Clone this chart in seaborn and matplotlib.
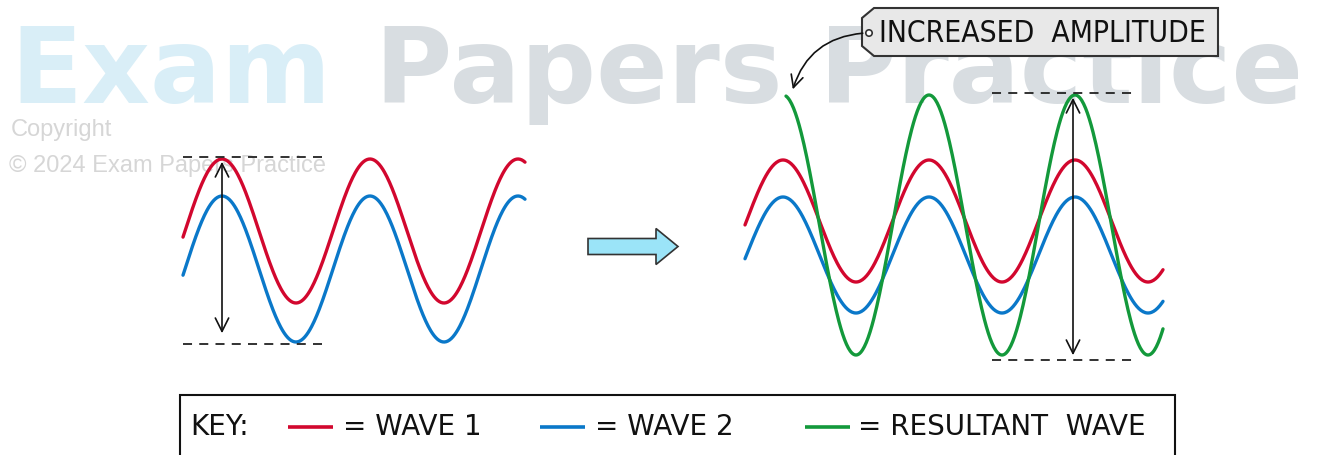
import numpy as np
import pandas as pd
import matplotlib.pyplot as plt
import seaborn as sns
from matplotlib.patches import FancyArrow, Polygon, Rectangle, Circle, FancyArrowPatch

# wave settings (pixel units of the 1323x455 drawing)
wave_names = ["WAVE 1", "WAVE 2", "RESULTANT  WAVE"]
wave_colors = ["#d2072e", "#0a78c9", "#13993b"]

# before: two separate waves
left_start = [183, 183]
left_end = [525, 525]
left_crest = 222
left_wavelength = 148
left_centre = [231, 269]
left_amplitude = [72, 73]

# after: the two waves plus the resultant
right_start = [745, 745, 786]
right_end = [1163, 1163, 1163]
right_crest = 929
right_wavelength = 146
right_centre = [221, 255, 225]
right_amplitude = [61, 58, 130]

sns.set_theme(style="white")
hand = ['DejaVu Sans']
plt.rcParams['font.family'] = ['DejaVu Sans']

rows = []
for i in range(2):
    xs = np.linspace(left_start[i], left_end[i], 400)
    ys = left_centre[i] - left_amplitude[i] * np.cos(2 * np.pi * (xs - left_crest) / left_wavelength)
    rows.append(pd.DataFrame({"x": xs, "y": ys, "wave": wave_names[i], "panel": "left"}))
for i in range(3):
    xs = np.linspace(right_start[i], right_end[i], 400)
    ys = right_centre[i] - right_amplitude[i] * np.cos(2 * np.pi * (xs - right_crest) / right_wavelength)
    rows.append(pd.DataFrame({"x": xs, "y": ys, "wave": wave_names[i], "panel": "right"}))
df = pd.concat(rows, ignore_index=True)
df["unit"] = df["panel"] + df["wave"]

fig = plt.figure(figsize=(13.23, 4.55), dpi=100)
ax = fig.add_axes([0, 0, 1, 1])
ax.set_xlim(0, 1323)
ax.set_ylim(455, 0)
ax.axis("off")

# watermark
ax.text(10, 103, "Exam", fontsize=76, fontweight="bold", color="#d9eef7", family="DejaVu Sans", va="baseline", zorder=0)
ax.text(375, 103, "Papers Practice", fontsize=76, fontweight="bold", color="#d8dde1", family="DejaVu Sans", va="baseline", zorder=0)
ax.text(11, 130, "Copyright", fontsize=17, color="#d6d6d6", family="Liberation Sans", va="center", zorder=0)
ax.text(9, 166, "\u00a9 2024 Exam Papers Practice", fontsize=17, color="#d6d6d6", family="Liberation Sans", va="center", zorder=0)

sns.lineplot(data=df, x="x", y="y", hue="wave", units="unit", estimator=None, sort=False,
             palette=dict(zip(wave_names, wave_colors)), linewidth=2.4, legend=False, ax=ax, zorder=3)
ax.set_xlim(0, 1323)
ax.set_ylim(455, 0)

# amplitude markers
left_top = left_centre[0] - left_amplitude[0]
left_bottom = left_centre[1] + left_amplitude[1]
ax.hlines([left_top - 2, left_bottom + 2], 183, 322, colors="#222", linestyles=(0, (5, 4)), lw=1.3, zorder=4)
ax.annotate("", xy=(222, left_top), xytext=(222, left_bottom - 6),
            arrowprops=dict(arrowstyle="<->", lw=1.2, color="#111", mutation_scale=24), zorder=4)

right_top = right_centre[2] - right_amplitude[2]
right_bottom = right_centre[2] + right_amplitude[2]
ax.hlines([right_top - 2, right_bottom + 5], 992, 1132, colors="#222", linestyles=(0, (5, 4)), lw=1.3, zorder=4)
ax.annotate("", xy=(1073, right_top), xytext=(1073, right_bottom + 3),
            arrowprops=dict(arrowstyle="<->", lw=1.2, color="#111", mutation_scale=24), zorder=4)

# block arrow between panels
ax.add_patch(FancyArrow(588, 246.5, 90, 0, width=16, head_width=36, head_length=22,
                        length_includes_head=True, fc="#9be4f8", ec="#333", lw=1.2, zorder=4))

# label tag
tag = Polygon([(874, 8), (1218, 8), (1218, 56), (874, 56), (862, 46), (862, 18)],
              closed=True, fc="#e8e8e8", ec="#333", lw=1.5, zorder=4)
ax.add_patch(tag)
ax.add_patch(Circle((869, 33), 3.2, fc="white", ec="#333", lw=1.2, zorder=5))
ax.text(879, 33, "INCREASED  AMPLITUDE", fontsize=21.5, fontstretch="condensed", family=hand,
        va="center", ha="left", color="#111", zorder=5)
ax.add_patch(FancyArrowPatch((865.5, 33), (792, 92), connectionstyle="arc3,rad=0.35",
                             arrowstyle="->", mutation_scale=22, lw=1.2, color="#111", zorder=5))

# key
ax.add_patch(Rectangle((180, 395), 995, 80, fc="white", ec="#111", lw=1.5, zorder=4))
ax.text(190, 427, "KEY:", fontsize=20, family=hand, va="center", color="#111", zorder=5)
key_line_x = [288, 540, 805]
key_text_x = [343, 595, 858]
for name, color, lx, tx in zip(wave_names, wave_colors, key_line_x, key_text_x):
    ax.plot([lx, lx + 45], [427, 427], color=color, lw=2.6, zorder=5, solid_capstyle="butt")
    ax.text(tx, 427, "= " + name, fontsize=20, family=hand, va="center", color="#111", zorder=5)

fig.savefig("out.png", dpi=100)
